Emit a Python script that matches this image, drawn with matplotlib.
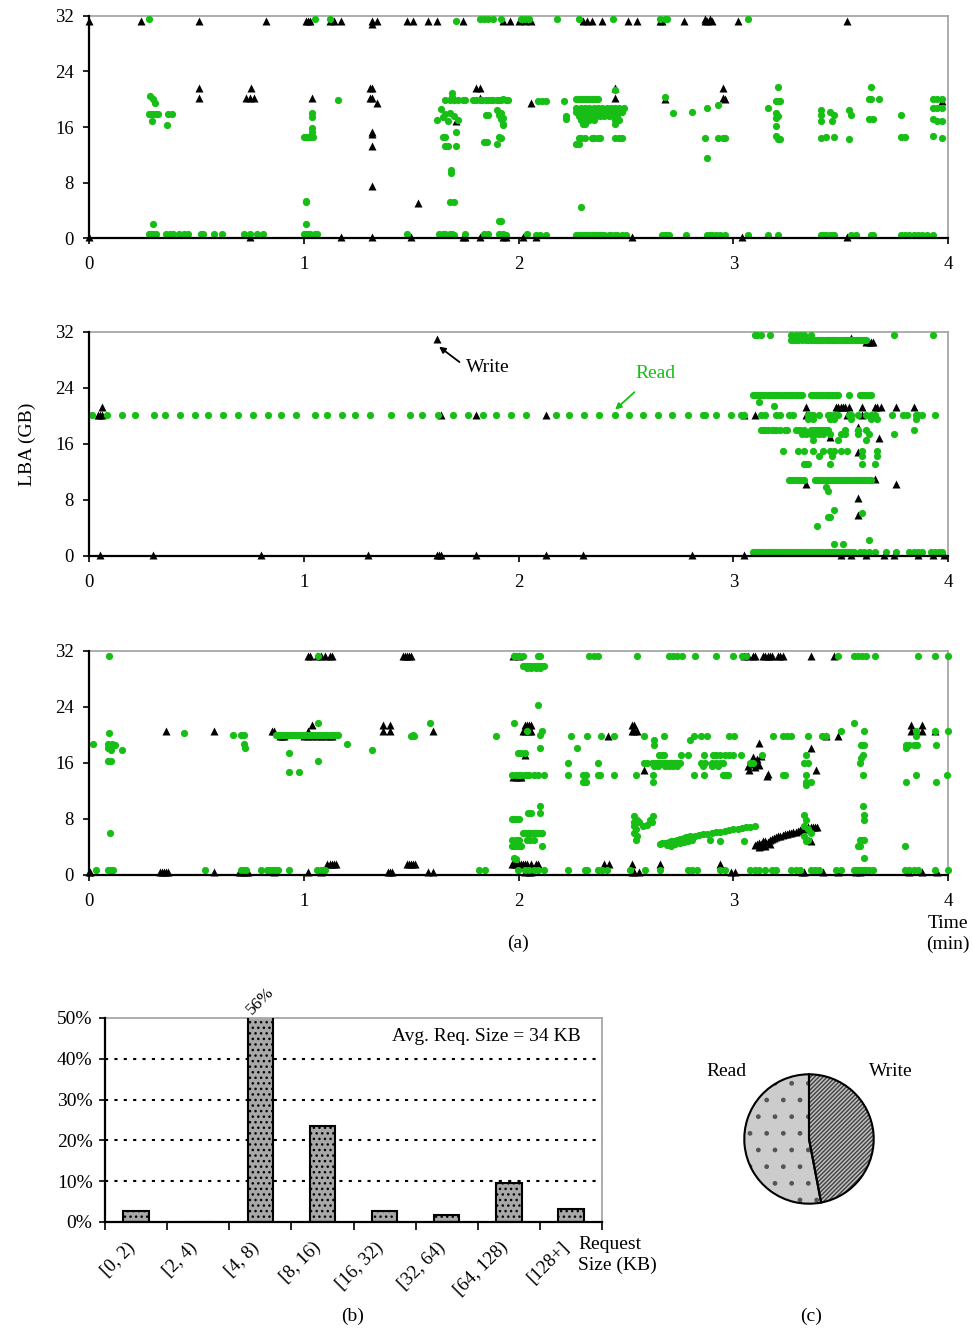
import matplotlib.pyplot as plt

plt.rcParams['font.family'] = ['Liberation Serif', 'DejaVu Serif']
plt.rcParams['hatch.color'] = 'black'
plt.rcParams['hatch.linewidth'] = 1.0

GREEN = '#16be16'

# LBA traces: each row is (LBA in GB, [request times in minutes])
trace1_reads = [
    (31.6, [0.28, 1.05, 1.12, 1.82, 1.84, 1.86, 1.88, 1.92, 2.01, 2.03, 2.05, 2.18, 2.28, 2.44, 2.66, 2.68, 2.69, 3.07]),
    (31.3, [1.71]),
    (21.8, [3.64]),
    (21.7, [3.21]),
    (21.3, [2.45]),
    (20.9, [1.69]),
    (20.4, [0.285]),
    (20.3, [1.69, 2.68]),
    (20.0, [0.30, 1.93, 2.27, 2.28, 2.29, 2.30, 2.31, 2.32, 2.33, 2.34, 2.35, 2.36, 2.37, 3.63, 3.64, 3.68, 3.93, 3.95, 3.97]),
    (19.9, [1.16, 1.66, 1.68, 1.70, 1.72, 1.74, 1.75, 1.79, 1.80, 1.82, 1.83, 1.85, 1.86, 1.87, 1.88, 1.90, 1.91, 1.92, 1.94, 1.95]),
    (19.8, [2.09, 2.11, 2.13, 2.21, 3.20, 3.21, 3.22]),
    (19.4, [0.305]),
    (19.1, [2.93]),
    (18.8, [2.27, 2.29, 2.31, 2.33, 2.35, 2.37, 2.39, 2.41, 2.43, 2.45, 2.47, 2.49, 3.16]),
    (18.7, [2.88, 3.93, 3.95, 3.97]),
    (18.6, [1.64]),
    (18.5, [1.90, 3.41, 3.54]),
    (18.2, [2.27, 2.28, 2.30, 2.32, 2.34, 2.36, 2.38, 2.40, 2.42, 2.44, 2.46, 2.48, 3.45]),
    (18.1, [2.81]),
    (18.0, [1.04, 1.68, 1.92, 2.72, 3.20]),
    (17.9, [0.28, 0.29, 0.30, 0.31, 0.32, 0.37, 0.385, 1.66]),
    (17.8, [1.91, 3.41, 3.47, 3.55]),
    (17.7, [1.85, 1.86, 3.78]),
    (17.6, [1.70, 2.22, 2.28, 2.30, 2.32, 2.34, 2.36, 2.38, 2.40, 2.42, 2.44, 2.46, 3.21]),
    (17.4, [1.04, 1.65]),
    (17.3, [1.93, 3.20]),
    (17.2, [1.92, 2.22, 3.63, 3.65, 3.93]),
    (17.0, [1.62, 1.72, 2.29, 2.31, 2.33, 2.35, 2.45, 2.47]),
    (16.9, [0.295, 1.67, 3.41, 3.46]),
    (16.8, [3.95, 3.97]),
    (16.5, [1.93]),
    (16.4, [2.30, 2.31, 2.45]),
    (16.3, [0.365, 1.93]),
    (16.1, [3.20]),
    (15.8, [1.04]),
    (15.3, [1.04, 1.71]),
    (14.7, [3.20, 3.93]),
    (14.5, [1.0, 1.01, 1.02, 1.03, 1.045, 1.65, 1.66, 1.91, 3.43, 3.47, 3.78, 3.80]),
    (14.4, [1.92, 2.28, 2.29, 2.31, 2.34, 2.35, 2.37, 2.38, 2.45, 2.47, 2.48, 2.87, 2.93, 2.95, 2.96, 3.41, 3.97]),
    (14.3, [3.21, 3.54]),
    (14.2, [3.22]),
    (13.8, [1.84, 1.855]),
    (13.6, [2.27, 2.28]),
    (13.5, [1.90]),
    (13.3, [1.66, 1.67, 1.71]),
    (11.5, [2.88]),
    (9.8, [1.685]),
    (9.4, [1.685]),
    (5.4, [1.01]),
    (5.2, [1.01, 1.68, 1.70]),
    (4.4, [2.29]),
    (2.4, [1.91, 1.92]),
    (2.0, [0.30, 1.01]),
    (0.6, [0.28, 0.29, 0.30, 0.31, 0.36, 0.375, 0.39, 0.42, 0.44, 0.46, 0.52, 0.53, 0.58, 0.62, 0.72, 0.75,
           0.78, 0.81, 1.0, 1.01, 1.02, 1.03, 1.05, 1.06, 1.48, 1.63, 1.65, 1.66, 1.68, 1.69, 1.75, 1.84,
           1.86, 1.91, 1.93, 2.04]),
    (0.4, [1.64, 1.67, 1.70, 1.92, 1.94, 2.08, 2.10, 2.13, 2.27, 2.28, 2.29, 2.30, 2.31, 2.32, 2.33, 2.34,
           2.35, 2.36, 2.37, 2.38, 2.39, 2.40, 2.42, 2.43, 2.45, 2.46, 2.48, 2.50, 2.67, 2.68, 2.69, 2.70,
           2.78, 2.88, 2.89, 2.90, 2.92, 2.94, 2.96, 3.07, 3.16, 3.21, 3.41, 3.42, 3.43, 3.45, 3.46, 3.47,
           3.55, 3.57, 3.64, 3.65, 3.78, 3.80, 3.82, 3.84, 3.86, 3.88, 3.90, 3.93]),
]

trace1_writes = [
    (31.6, [2.87, 2.89]),
    (31.3, [0.0, 0.24, 0.51, 0.825, 1.01, 1.02, 1.03, 1.12, 1.14, 1.175, 1.32, 1.34, 1.48, 1.51, 1.58, 1.62,
            1.74, 1.93, 1.96, 2.0, 2.03, 2.06, 2.30, 2.32, 2.34, 2.39, 2.51, 2.55, 2.66, 2.67, 2.77, 2.87,
            2.88, 2.90, 3.02, 3.53]),
    (30.8, [1.32]),
    (21.6, [0.51, 0.754, 1.31, 1.32, 1.80, 1.82, 2.45, 2.95]),
    (20.2, [0.51, 0.73, 0.75, 0.77, 1.04, 1.31, 1.32, 1.82, 2.45, 2.95]),
    (20.0, [2.68, 2.96]),
    (19.7, [3.97]),
    (19.4, [1.34, 2.06]),
    (16.9, [1.71]),
    (15.3, [1.32]),
    (15.0, [1.32]),
    (13.2, [1.32]),
    (7.5, [1.32]),
    (5.1, [1.53]),
    (0.2, [0.0, 0.75, 1.175, 1.32, 1.50, 1.74, 1.75, 1.82, 1.93, 1.94, 2.02, 2.08, 2.53, 3.04, 3.53]),
]

trace2_reads = [
    (31.6, [3.10, 3.11, 3.13, 3.17, 3.27, 3.29, 3.31, 3.33, 3.36, 3.75, 3.93]),
    (30.8, [3.27, 3.28, 3.29, 3.30, 3.32, 3.34, 3.35, 3.36, 3.37, 3.38, 3.39, 3.40, 3.41, 3.42, 3.43, 3.44,
            3.45, 3.46, 3.47, 3.48, 3.49, 3.50, 3.51, 3.52, 3.53, 3.54, 3.55, 3.56, 3.57, 3.58, 3.59, 3.60,
            3.61, 3.62]),
    (23.0, [3.09, 3.10, 3.11, 3.12, 3.13, 3.14, 3.15, 3.16, 3.17, 3.18, 3.19, 3.20, 3.21, 3.22, 3.23, 3.24,
            3.25, 3.26, 3.27, 3.28, 3.29, 3.30, 3.31, 3.32, 3.36, 3.37, 3.38, 3.39, 3.40, 3.41, 3.42, 3.43,
            3.44, 3.45, 3.46, 3.47, 3.48, 3.49, 3.54, 3.59, 3.60, 3.61, 3.62, 3.63, 3.64]),
    (22.0, [3.12]),
    (21.4, [3.19]),
    (20.1, [0.013, 0.082, 0.152, 0.214, 0.302, 0.353, 0.423, 0.493, 0.555, 0.625, 0.694, 0.764, 0.834,
            0.896, 0.966, 1.054, 1.106, 1.178, 1.237, 1.307, 1.405, 1.493, 1.552, 1.625, 1.695, 1.764,
            1.834, 1.896, 1.966, 2.036, 2.175, 2.237, 2.307, 2.377, 2.447, 2.516, 2.578, 2.648, 2.717,
            2.787, 2.86, 2.87, 2.919, 2.989, 3.035, 3.05, 3.13, 3.15, 3.197, 3.22, 3.26, 3.28, 3.35, 3.36,
            3.37, 3.40, 3.44, 3.45, 3.47, 3.49, 3.54, 3.55, 3.58, 3.62, 3.64, 3.66, 3.74, 3.79, 3.81, 3.85,
            3.86, 3.88, 3.94]),
    (19.5, [3.35, 3.37, 3.45, 3.47, 3.55, 3.64, 3.67, 3.85]),
    (18.0, [3.13, 3.14, 3.15, 3.16, 3.18, 3.19, 3.20, 3.22, 3.24, 3.25, 3.29, 3.30, 3.31, 3.33, 3.36, 3.37,
            3.38, 3.39, 3.40, 3.41, 3.42, 3.43, 3.44, 3.52, 3.58, 3.62, 3.84]),
    (17.4, [3.32, 3.34, 3.36, 3.38, 3.40, 3.42, 3.45, 3.50, 3.52, 3.58, 3.63, 3.75]),
    (16.6, [3.37, 3.49, 3.62]),
    (15.0, [3.23, 3.30, 3.33, 3.37, 3.42, 3.45, 3.47, 3.50, 3.53, 3.60, 3.67]),
    (14.3, [3.40, 3.46, 3.60, 3.67]),
    (13.2, [3.33, 3.34, 3.35, 3.45, 3.60, 3.66]),
    (10.9, [3.26, 3.27, 3.28, 3.29, 3.30, 3.31, 3.32, 3.33, 3.38, 3.39, 3.40, 3.41, 3.42, 3.43, 3.44, 3.45,
            3.46, 3.47, 3.48, 3.49, 3.50, 3.51, 3.52, 3.53, 3.54, 3.55, 3.56, 3.57, 3.58, 3.59, 3.60, 3.61,
            3.62, 3.63, 3.64]),
    (9.9, [3.43]),
    (9.3, [3.44]),
    (6.5, [3.47]),
    (6.2, [3.60]),
    (5.5, [3.44, 3.45]),
    (4.3, [3.39]),
    (2.3, [3.63]),
    (1.7, [3.47, 3.51]),
    (0.6, [3.09, 3.10, 3.11, 3.12, 3.13, 3.14, 3.15, 3.16, 3.17, 3.18, 3.19, 3.20, 3.21, 3.22, 3.23, 3.24,
           3.25, 3.26, 3.27, 3.28, 3.29, 3.30, 3.31, 3.32, 3.33, 3.34, 3.35, 3.36, 3.37, 3.38, 3.39, 3.40,
           3.41, 3.42, 3.43, 3.44, 3.45, 3.46, 3.47, 3.48, 3.49, 3.50, 3.51, 3.52, 3.53, 3.54, 3.55, 3.56,
           3.59, 3.61, 3.63, 3.66, 3.71, 3.76, 3.82, 3.84, 3.86, 3.88, 3.92, 3.94, 3.96, 3.97]),
]

trace2_writes = [
    (31.0, [1.62]),
    (31.2, [3.30, 3.34, 3.55]),
    (30.6, [3.62, 3.63, 3.64, 3.65]),
    (21.3, [0.06, 3.34, 3.48, 3.49, 3.50, 3.51, 3.52, 3.54, 3.60, 3.66, 3.67, 3.69, 3.76, 3.84]),
    (20.2, [0.04, 0.05, 0.06, 1.64, 1.80, 2.13, 3.05, 3.10, 3.34, 3.53, 3.60]),
    (18.4, [3.58]),
    (17.0, [3.45]),
    (16.9, [3.68]),
    (14.8, [3.58]),
    (11.0, [3.66]),
    (10.3, [3.34, 3.76]),
    (8.3, [3.58]),
    (5.8, [3.58]),
    (0.2, [0.05, 0.30, 0.80, 1.30, 1.62, 1.63, 1.64, 1.80, 2.13, 2.30, 2.81, 3.05, 3.50, 3.55, 3.62, 3.70,
           3.75, 3.86, 3.93, 3.98]),
]

trace3_reads = [
    (31.3, [0.093, 1.064, 1.98, 1.99, 2.0, 2.02, 2.09, 2.10, 2.33, 2.35, 2.37, 2.55, 2.70, 2.72, 2.74, 2.76,
            2.82, 2.92, 3.0, 3.04, 3.06, 3.49, 3.56, 3.58, 3.60, 3.62, 3.66, 3.86, 3.94, 4.0]),
    (29.9, [2.02, 2.03, 2.04, 2.05, 2.06, 2.07, 2.08, 2.09, 2.10, 2.11, 2.12]),
    (29.6, [2.04, 2.06, 2.08, 2.10]),
    (24.3, [2.09]),
    (21.7, [1.064, 1.59, 1.98, 3.56]),
    (20.6, [2.04, 2.11, 3.50, 3.61, 3.85, 3.94, 4.0]),
    (20.3, [0.093, 0.443]),
    (20.0, [0.671, 0.71, 0.72, 0.87, 0.88, 0.89, 0.90, 0.91, 0.92, 0.93, 0.94, 0.95, 0.96, 0.97, 0.98, 0.99,
            1.00, 1.01, 1.02, 1.03, 1.04, 1.05, 1.06, 1.07, 1.08, 1.09, 1.10, 1.11, 1.12, 1.13, 1.14, 1.15,
            1.16, 1.508, 2.10]),
    (19.8, [1.50, 1.515, 1.896, 2.245, 2.318, 2.384, 2.446, 2.586, 2.679, 2.815, 2.85, 2.876, 2.981, 3.005,
            3.183, 3.23, 3.25, 3.27, 3.349, 3.415, 3.43, 3.85]),
    (19.3, [2.63, 2.80]),
    (18.7, [0.02, 0.09, 0.105, 0.72, 1.203]),
    (18.6, [2.63, 3.594, 3.60, 3.61, 3.803, 3.82, 3.84, 3.857, 3.942]),
    (18.5, [0.121]),
    (18.2, [0.725]),
    (18.1, [0.09, 2.098, 2.271, 3.803]),
    (17.9, [0.10, 0.152, 1.318]),
    (17.4, [0.932, 1.997, 2.01, 2.03]),
    (17.1, [2.656, 2.67, 2.679, 2.757, 2.788, 2.865, 2.904, 2.92, 2.94, 2.96, 2.98, 2.997, 3.036, 3.136,
            3.338, 3.602]),
    (16.7, [3.594]),
    (16.3, [0.09, 0.10, 1.064]),
    (16.0, [2.23, 2.369, 2.586, 2.60, 2.62, 2.63, 2.64, 2.65, 2.66, 2.67, 2.68, 2.69, 2.70, 2.71, 2.72, 2.73,
            2.74, 2.75, 2.85, 2.87, 2.90, 2.92, 2.94, 2.95, 3.08, 3.09, 3.33, 3.35, 3.59]),
    (15.5, [2.63, 2.65, 2.68, 2.70, 2.72, 2.74, 2.86, 2.90, 2.93]),
    (14.7, [0.932, 0.977]),
    (14.3, [1.97, 1.99, 2.0, 2.01, 2.03, 2.04, 2.05, 2.07, 2.09, 2.121, 2.23, 2.30, 2.315, 2.37, 2.38, 2.446,
            2.547, 2.625, 2.815, 2.865, 2.95, 2.96, 2.974, 3.23, 3.24, 3.338, 3.602, 3.85, 3.997]),
    (13.3, [2.30, 2.315, 2.625, 3.338, 3.36, 3.803, 3.942]),
    (12.9, [3.338]),
    (9.8, [2.098, 3.602]),
    (8.8, [2.043, 2.06, 2.098]),
    (8.6, [3.61]),
    (8.5, [3.33]),
    (8.4, [2.54, 2.625]),
    (8.0, [1.97, 1.98, 1.99, 2.0]),
    (7.9, [2.55, 2.61, 3.34, 3.61]),
    (7.5, [2.54, 2.56, 2.62]),
    (7.2, [2.60]),
    (7.0, [2.54, 2.58, 3.33]),
    (6.5, [2.545, 3.35]),
    (6.0, [0.098, 2.02, 2.03, 2.04, 2.05, 2.06, 2.07, 2.08, 2.09, 2.10, 2.11, 2.54, 3.36]),
    (5.5, [2.55, 3.33]),
    (5.0, [1.97, 1.99, 2.00, 2.04, 2.055, 2.07, 2.547, 2.89, 3.35, 3.59, 3.60, 3.61]),
    (4.9, [3.34]),
    (4.2, [1.97, 1.98, 1.99, 2.0, 2.01, 2.11, 3.58, 3.59, 3.80]),
    (2.4, [1.98, 3.61]),
    (2.3, [1.99]),
    (0.7, [0.031, 0.09, 0.10, 0.11, 0.54, 0.71, 0.72, 0.73, 0.80, 0.83, 0.84, 0.85, 0.86, 0.87, 0.88, 0.93,
           1.06, 1.08, 1.09, 1.10, 1.815, 1.843, 1.997, 2.03, 2.05, 2.07, 2.09, 2.12, 2.23, 2.31, 2.32, 2.37,
           2.39, 2.41, 2.52, 2.59, 2.66, 2.79, 2.81, 2.83, 2.94, 2.96, 3.08, 3.10, 3.12, 3.15, 3.18, 3.20,
           3.27, 3.29, 3.31, 3.36, 3.38, 3.40, 3.48, 3.50, 3.56, 3.57, 3.58, 3.59, 3.60, 3.61, 3.62, 3.63,
           3.65, 3.80, 3.82, 3.84, 3.86, 3.94, 4.0]),
]

# sequential read run climbing from 2.66 to 3.10 min, as (time, LBA) pairs
trace3_read_run = [
    (2.66, 4.4), (2.67, 4.5), (2.68, 4.6), (2.69, 4.5), (2.70, 4.7), (2.71, 4.8), (2.72, 4.9), (2.73, 4.8),
    (2.74, 5.0), (2.75, 5.2), (2.76, 5.1), (2.77, 5.3), (2.78, 5.4), (2.79, 5.4), (2.80, 5.5), (2.82, 5.6),
    (2.84, 5.7), (2.86, 5.8), (2.88, 5.9), (2.90, 6.0), (2.92, 6.1), (2.94, 6.2), (2.96, 6.3), (2.98, 6.4),
    (3.00, 6.5), (3.02, 6.6), (3.04, 6.7), (3.06, 6.8), (3.08, 6.9), (3.10, 7.0),
    (2.69, 4.3), (2.71, 4.2), (2.73, 4.4), (2.75, 4.6), (2.77, 4.7), (2.79, 4.8), (2.81, 5.0),
    (2.94, 4.8), (3.05, 4.8),
]

trace3_writes = [
    (31.3, [1.02, 1.03, 1.06, 1.08, 1.10, 1.12, 1.13, 1.46, 1.47, 1.48, 1.49, 1.50, 1.974, 2.0, 3.05, 3.07,
            3.09, 3.10, 3.14, 3.15, 3.16, 3.17, 3.18, 3.21, 3.22, 3.23, 3.36, 3.47]),
    (21.4, [1.04, 1.37, 1.40, 2.03, 2.04, 2.05, 2.06, 2.53, 2.54, 3.83, 3.88]),
    (20.5, [0.36, 0.58, 0.85, 0.86, 1.02, 1.37, 1.40, 1.60, 2.02, 2.03, 2.05, 2.06, 2.53, 2.54, 2.55, 3.83,
            3.88, 3.94]),
    (19.8, [0.89, 0.90, 0.91, 1.00, 1.02, 1.04, 1.06, 1.08, 1.10, 1.12, 1.13, 2.415, 3.43, 3.49]),
    (18.9, [3.12]),
    (18.1, [3.36]),
    (17.2, [2.03]),
    (17.0, [3.13]),
    (16.9, [3.09]),
    (16.6, [3.11]),
    (16.2, [3.10]),
    (15.8, [3.08]),
    (15.7, [3.12]),
    (15.6, [3.07]),
    (15.4, [3.10]),
    (15.0, [2.586, 3.075, 3.385]),
    (14.4, [3.16]),
    (14.2, [3.155]),
    (14.0, [1.974, 1.99, 2.0, 2.01]),
    (4.9, [3.14, 3.36]),
    (1.6, [1.11, 1.12, 1.13, 1.14, 1.15, 1.48, 1.49, 1.50, 1.51, 1.52, 1.97, 1.98, 1.99, 2.0, 2.01, 2.02,
           2.03, 2.04, 2.06, 2.08, 2.09, 2.40, 2.42, 2.53, 2.66, 2.94]),
    (0.4, [0.0, 0.005, 0.33, 0.34, 0.35, 0.36, 0.37, 0.58, 0.70, 0.71, 0.72, 0.73, 0.74, 0.86, 1.02, 1.08,
           1.39, 1.40, 1.41, 1.58, 1.60, 2.03, 2.05, 2.06, 2.53, 2.54, 2.56, 2.99, 3.01, 3.32, 3.33, 3.42,
           3.49, 3.57, 3.59, 3.82, 3.88, 3.95]),
]

# sequential write run climbing from 3.10 to 3.39 min, as (time, LBA) pairs
trace3_write_run = [
    (3.10, 4.3), (3.11, 4.4), (3.12, 4.5), (3.13, 4.4), (3.14, 4.6), (3.15, 4.8), (3.16, 4.7), (3.17, 5.0),
    (3.18, 5.2), (3.19, 5.3), (3.20, 5.4), (3.21, 5.5), (3.22, 5.6), (3.23, 5.7), (3.24, 5.8), (3.25, 5.9),
    (3.26, 6.0), (3.27, 6.0), (3.28, 6.1), (3.29, 6.2), (3.30, 6.3), (3.31, 6.4), (3.32, 6.5), (3.33, 6.6),
    (3.34, 6.7), (3.35, 6.8), (3.36, 6.9), (3.37, 6.8), (3.38, 6.9), (3.39, 6.9),
    (3.12, 4.0), (3.13, 4.2), (3.15, 4.1), (3.17, 4.4),
]

# request size distribution (%), and read/write split (%)
size_bins = ['[0, 2)', '[2, 4)', '[4, 8)', '[8, 16)', '[16, 32)', '[32, 64)', '[64, 128)', '[128+]']
size_share = [2.8, 0, 56, 23.5, 2.8, 1.8, 9.6, 3.2]
avg_req_kb = 34
rw_labels = ['Write', 'Read']
rw_share = [47, 53]


def unpack(rows):
    xs = [x for y, row in rows for x in row]
    ys = [y for y, row in rows for x in row]
    return xs, ys


def draw_trace(ax, reads, writes, read_run=(), write_run=()):
    wx, wy = unpack(writes)
    wx += [p[0] for p in write_run]
    wy += [p[1] for p in write_run]
    rx, ry = unpack(reads)
    rx += [p[0] for p in read_run]
    ry += [p[1] for p in read_run]
    ax.plot(wx, wy, '^', ms=5.5, color='black', mec='none', clip_on=False, zorder=3)
    ax.plot(rx, ry, 'o', ms=5.2, color=GREEN, mec='none', clip_on=False, zorder=4)

    ax.set_xlim(0, 4)
    ax.set_ylim(0, 32)
    ax.set_xticks(range(5))
    ax.set_yticks(range(0, 33, 8))
    for side in ('top', 'right'):
        ax.spines[side].set_color('#a0a0a0')
        ax.spines[side].set_linewidth(1.2)
    for side in ('left', 'bottom'):
        ax.spines[side].set_linewidth(1.6)
        ax.spines[side].set_zorder(5)
    ax.tick_params(axis='y', direction='out', length=4, width=1.2, pad=7, labelsize=13.5)
    ax.tick_params(axis='x', direction='out', length=4, width=1.2, pad=9, labelsize=13.5)


fig = plt.figure(figsize=(9.73, 13.32), dpi=100)

ax1 = fig.add_axes([0.0915, 0.8213, 0.8828, 0.1667])
ax2 = fig.add_axes([0.0915, 0.5826, 0.8828, 0.1682])
ax3 = fig.add_axes([0.0915, 0.3431, 0.8828, 0.1682])

draw_trace(ax1, trace1_reads, trace1_writes)
draw_trace(ax2, trace2_reads, trace2_writes)
draw_trace(ax3, trace3_reads, trace3_writes, trace3_read_run, trace3_write_run)

ax2.set_ylabel('LBA (GB)', fontsize=14, labelpad=14)
ax2.text(1.755, 26.9, 'Write', fontsize=14, va='center', ha='left')
ax2.annotate('', xy=(1.63, 29.9), xytext=(1.725, 27.7),
             arrowprops=dict(arrowstyle='-|>', color='black', lw=1.3, mutation_scale=9, shrinkA=0, shrinkB=0))
ax2.text(2.545, 26.1, 'Read', fontsize=14, va='center', ha='left', color=GREEN)
ax2.annotate('', xy=(2.45, 20.9), xytext=(2.54, 23.4),
             arrowprops=dict(arrowstyle='-|>', color=GREEN, lw=1.3, mutation_scale=9, shrinkA=0, shrinkB=0))

fig.text(0.5324, 1 - 943 / 1332, '(a)', ha='center', va='center', fontsize=14)
fig.text(948 / 973, 1 - 934 / 1332, 'Time\n(min)', ha='center', va='center', fontsize=14, linespacing=1.35)

# (b) request size histogram
axb = fig.add_axes([105 / 973, 110 / 1332, 497 / 973, 204 / 1332])
pos = range(len(size_bins))
axb.bar(pos, size_share, width=0.41, color='#a8a8a8', edgecolor='black', linewidth=1.5,
        hatch='...', zorder=3)
axb.set_xlim(-0.5, len(size_bins) - 0.5)
axb.set_ylim(0, 50)
axb.set_yticks(range(0, 51, 10))
axb.set_yticklabels([f'{v}%' for v in range(0, 51, 10)])
for v in range(10, 50, 10):
    axb.axhline(v, color='black', lw=1.5, linestyle=(0, (1.5, 3)), zorder=1)
axb.set_xticks([p - 0.5 for p in pos] + [len(size_bins) - 0.5])
axb.set_xticklabels([])
axb.set_xticks([p - 0.16 for p in pos], minor=True)
axb.set_xticklabels(size_bins, minor=True, rotation=45, ha='right', va='top', rotation_mode='anchor')
axb.tick_params(axis='x', which='minor', length=0, pad=12, labelsize=13.5)
axb.tick_params(axis='x', which='major', direction='out', length=6, width=1.2)
axb.tick_params(axis='y', direction='out', length=4, width=1.2, pad=5, labelsize=14)
for side in ('top', 'right'):
    axb.spines[side].set_color('#a0a0a0')
    axb.spines[side].set_linewidth(1.2)
for side in ('left', 'bottom'):
    axb.spines[side].set_linewidth(1.6)
    axb.spines[side].set_zorder(5)

peak = max(size_share)
axb.text(size_share.index(peak), 50, f'{peak:.0f}%', rotation=45, ha='center', va='bottom', fontsize=12.5)
axb.text(len(size_bins) - 0.85, 45.5, f'Avg. Req. Size = {avg_req_kb} KB', ha='right', va='center', fontsize=14)
fig.text(578 / 973, 1 - 1255 / 1332, 'Request\nSize (KB)', ha='left', va='center', fontsize=14,
         linespacing=1.3)
fig.text(353 / 973, 1 - 1316 / 1332, '(b)', ha='center', va='center', fontsize=14)

# (c) read/write split
axc = fig.add_axes([743 / 973, 1 - 1205 / 1332, 132 / 973, 132 / 1332])
wedges, _ = axc.pie(rw_share, startangle=90, counterclock=False, radius=1,
                    colors=['#c0c0c0', '#cccccc'], wedgeprops=dict(linewidth=0))
wedges[0].set_hatch('////////')
wedges[0].set_edgecolor('#404040')
wedges[1].set_hatch('.')
wedges[1].set_edgecolor('#555555')
for w in wedges:
    w.set_linewidth(0)
axc.pie(rw_share, startangle=90, counterclock=False, radius=1, colors=['none', 'none'],
        wedgeprops=dict(linewidth=1.5, edgecolor='black'))
axc.set_xlim(-1.02, 1.02)
axc.set_ylim(-1.02, 1.02)
axc.set_aspect('equal')
fig.text(726 / 973, 1 - 1071 / 1332, rw_labels[1], ha='center', va='center', fontsize=14)
fig.text(891 / 973, 1 - 1071 / 1332, rw_labels[0], ha='center', va='center', fontsize=14)
fig.text(811 / 973, 1 - 1316 / 1332, '(c)', ha='center', va='center', fontsize=14)

fig.savefig('out.png', dpi=100)
